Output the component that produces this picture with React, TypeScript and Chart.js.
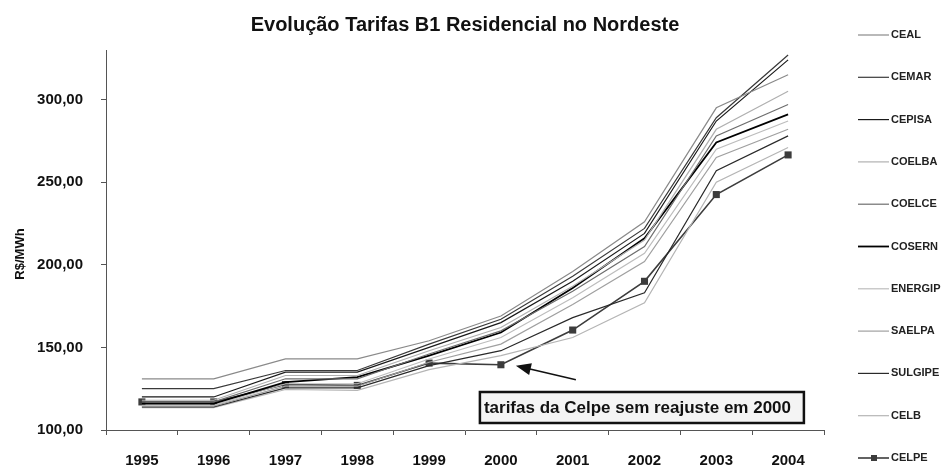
import React, { useEffect, useRef } from "react";
import { Chart, registerables } from "chart.js";
Chart.register(...registerables);

const FONT = "'Liberation Sans', Arial, sans-serif";

const years = ["1995", "1996", "1997", "1998", "1999", "2000", "2001", "2002", "2003", "2004"];
const yTicks = [100, 150, 200, 250, 300];

const CEAL = [131, 131, 143, 143, 154, 169, 196, 226, 295, 315];
const CEMAR = [125, 125, 136, 136, 152, 167, 193, 222, 289, 327];
const CEPISA = [120, 120, 135, 135, 150, 165, 190, 219, 287, 324];
const COELBA = [118, 118, 133, 133, 148, 162, 187, 215, 282, 305];
const COELCE = [117, 117, 131, 131, 146, 160, 184, 211, 278, 297];
const COSERN = [116, 116, 129, 132, 145, 159, 186, 216, 274, 291];
const ENERGIP = [115, 115, 128, 128, 143, 156, 180, 207, 270, 287];
const SAELPA = [114.5, 114.5, 126.5, 126.5, 141, 152, 176, 202, 265, 282];
const SULGIPE = [114, 114, 125.5, 125.5, 139, 148, 168, 183, 257, 278];
const CELB = [113.5, 113.5, 124.5, 124, 136.5, 145, 156, 177, 250, 271];
const CELPE = [117, 117, 127.5, 127, 140.5, 139.5, 160.5, 190, 242.5, 266.5];

const seriesNames = ["CEAL", "CEMAR", "CEPISA", "COELBA", "COELCE", "COSERN", "ENERGIP", "SAELPA", "SULGIPE", "CELB", "CELPE"];
const seriesData = [CEAL, CEMAR, CEPISA, COELBA, COELCE, COSERN, ENERGIP, SAELPA, SULGIPE, CELB, CELPE];
const seriesColors = ["#8a8a8a", "#3a3a3a", "#1a1a1a", "#b0b0b0", "#6e6e6e", "#000000", "#bdbdbd", "#a0a0a0", "#2a2a2a", "#b5b5b5", "#3c3c3c"];
const seriesWidths = [1.2, 1.2, 1.2, 1.2, 1.2, 1.8, 1.2, 1.2, 1.2, 1.2, 1.6];

const titleText = "Evolução Tarifas B1 Residencial no Nordeste";
const yTitle = "R$/MWh";
const noteText = "tarifas da Celpe sem reajuste em 2000";
const noteIndex = 5;

const decorPlugin = {
  id: "decor",
  afterDraw(chart: any) {
    const ctx = chart.ctx;
    const ca = chart.chartArea;
    ctx.save();
    // title
    ctx.fillStyle = "#111";
    ctx.font = `bold 20px ${FONT}`;
    ctx.textAlign = "center";
    ctx.textBaseline = "alphabetic";
    ctx.fillText(titleText, (ca.left + ca.right) / 2, 31);
    // y title
    ctx.save();
    ctx.translate(20, 254);
    ctx.rotate(-Math.PI / 2);
    ctx.font = `bold 13px ${FONT}`;
    ctx.textBaseline = "middle";
    ctx.fillText(yTitle, 0, 0);
    ctx.restore();
    // legend
    const ds = chart.data.datasets;
    for (let i = 0; i < ds.length; i++) {
      const y = 35 + i * 42.3;
      ctx.strokeStyle = ds[i].borderColor;
      ctx.lineWidth = ds[i].borderWidth;
      ctx.beginPath();
      ctx.moveTo(858, y);
      ctx.lineTo(889, y);
      ctx.stroke();
      if (ds[i].pointRadius > 0) {
        ctx.fillStyle = ds[i].borderColor;
        ctx.fillRect(871, y - 3, 6, 6);
      }
      ctx.fillStyle = "#222";
      ctx.font = `bold 11px ${FONT}`;
      ctx.textAlign = "left";
      ctx.textBaseline = "middle";
      ctx.fillText(ds[i].label, 891, y);
    }
    // annotation
    const xs = chart.scales.x;
    const ys = chart.scales.y;
    const px = xs.getPixelForValue(noteIndex);
    const py = ys.getPixelForValue(CELPE[noteIndex]);
    const tipX = px + 15, tipY = py + 1;
    const tailX = px + 75, tailY = py + 15;
    const ang = Math.atan2(tailY - tipY, tailX - tipX);
    ctx.strokeStyle = "#111";
    ctx.lineWidth = 1.5;
    ctx.beginPath();
    ctx.moveTo(tailX, tailY);
    ctx.lineTo(tipX + Math.cos(ang) * 10, tipY + Math.sin(ang) * 10);
    ctx.stroke();
    ctx.fillStyle = "#111";
    ctx.beginPath();
    ctx.moveTo(tipX, tipY);
    const L = 15, W = 6;
    const bx = tipX + Math.cos(ang) * L, by = tipY + Math.sin(ang) * L;
    ctx.lineTo(bx - Math.sin(ang) * W, by + Math.cos(ang) * W);
    ctx.lineTo(bx + Math.sin(ang) * W, by - Math.cos(ang) * W);
    ctx.closePath();
    ctx.fill();
    // box
    const boxL = px - 21, boxT = ca.bottom - 38, boxW = 324, boxH = 31;
    ctx.fillStyle = "#f4f4f4";
    ctx.fillRect(boxL, boxT, boxW, boxH);
    ctx.strokeStyle = "#111";
    ctx.lineWidth = 2.5;
    ctx.strokeRect(boxL, boxT, boxW, boxH);
    ctx.fillStyle = "#111";
    ctx.font = `bold 17px ${FONT}`;
    ctx.textAlign = "left";
    ctx.textBaseline = "middle";
    ctx.fillText(noteText, boxL + 4, boxT + boxH / 2 + 1);
    ctx.restore();
  },
};

export default function App() {
  const ref = useRef<HTMLCanvasElement>(null);
  useEffect(() => {
    if (!ref.current) return;
    const chart = new Chart(ref.current, {
      type: "line",
      data: {
        labels: years,
        datasets: seriesNames.map((name, i) => ({
          label: name,
          data: seriesData[i],
          borderColor: seriesColors[i],
          backgroundColor: seriesColors[i],
          borderWidth: seriesWidths[i],
          pointRadius: name === "CELPE" ? 5 : 0,
          pointStyle: "rect",
          pointBorderWidth: 0,
          tension: 0,
          fill: false,
        })),
      },
      options: {
        animation: false,
        responsive: true,
        maintainAspectRatio: false,
        layout: { padding: { top: 50, right: 126, left: 0, bottom: 0 } },
        plugins: { legend: { display: false }, title: { display: false }, tooltip: { enabled: false } },
        scales: {
          x: {
            offset: true,
            grid: { drawOnChartArea: false, drawTicks: true, tickLength: 5, color: "#555", offset: true },
            border: { color: "#555", width: 1 },
            ticks: { font: { family: FONT, size: 15, weight: "bold" }, color: "#111", padding: 17, maxRotation: 0, autoSkip: false },
            afterFit(s: any) { s.height = 41; },
          },
          y: {
            min: 100,
            max: 330,
            afterBuildTicks(s: any) { s.ticks = yTicks.map((v) => ({ value: v })); },
            grid: { drawOnChartArea: false, drawTicks: true, tickLength: 5, color: "#555" },
            border: { color: "#555", width: 1 },
            ticks: {
              font: { family: FONT, size: 15, weight: "bold" },
              color: "#111",
              padding: 18,
              callback: (v: any) => Number(v).toFixed(2).replace(".", ","),
            },
            afterFit(s: any) { s.width = 106; },
          },
        },
      },
      plugins: [decorPlugin],
    } as any);
    return () => chart.destroy();
  }, []);
  return (
    <div style={{ position: "fixed", left: 0, top: 0, width: 950, height: 471, background: "#fff" }}>
      <canvas ref={ref} />
    </div>
  );
}
